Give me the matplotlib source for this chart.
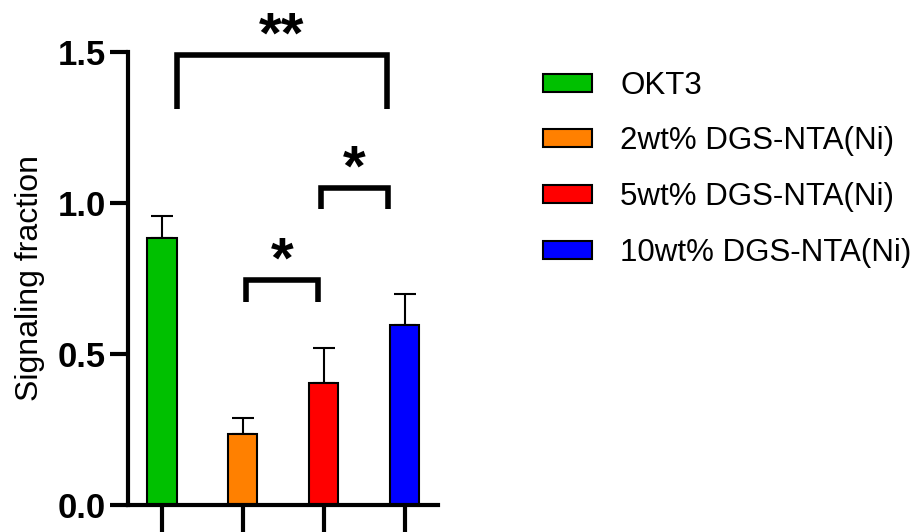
import matplotlib
matplotlib.use('Agg')
import matplotlib.pyplot as plt

plt.rcParams['font.family'] = ['Liberation Sans', 'DejaVu Sans']

groups = ['OKT3', '2wt% DGS-NTA(Ni)', '5wt% DGS-NTA(Ni)', '10wt% DGS-NTA(Ni)']
means = [0.885, 0.235, 0.405, 0.595]
errors = [0.072, 0.053, 0.115, 0.104]
colors = ['#00C000', '#FF8000', '#FF0000', '#0000FF']

# significance brackets: (x start, x end, top, leg bottom, label)
brackets = [
    (0.185, 2.78, 1.49, 1.31, '**'),
    (1.04, 1.93, 0.745, 0.672, '*'),
    (1.96, 2.79, 1.05, 0.98, '*'),
]

fig = plt.figure(figsize=(9.16, 5.32), dpi=100)
ax = fig.add_axes([0.1397, 0.0508, 0.3384, 0.8515])

x = range(len(groups))
for i in x:
    ax.bar(i, means[i], width=0.36, color=colors[i], edgecolor='black',
           linewidth=1.5, label=groups[i], zorder=2)
    ax.errorbar(i, means[i], yerr=[[0], [errors[i]]], fmt='none',
                ecolor='black', elinewidth=1.5, capsize=8, capthick=1.5, zorder=1)

for x0, x1, top, bot, lab in brackets:
    ax.plot([x0, x0, x1, x1], [bot, top, top, bot], color='black',
            linewidth=4, solid_joinstyle='miter', solid_capstyle='butt',
            clip_on=False)
    ax.text((x0 + x1) / 2, top - 0.032, lab, ha='center', va='bottom',
            fontsize=42, fontweight='bold')

ax.set_xlim(-0.42, 3.41)
ax.set_ylim(0, 1.5)
ax.set_yticks([0, 0.5, 1.0, 1.5])
ax.set_yticklabels(['0.0', '0.5', '1.0', '1.5'], fontsize=25, fontweight='bold')
ax.set_xticks(list(x))
ax.set_xticklabels([])
ax.tick_params(axis='y', length=13, width=3, pad=3)
ax.tick_params(axis='x', length=22, width=3)
ax.spines['top'].set_visible(False)
ax.spines['right'].set_visible(False)
ax.spines['left'].set_linewidth(3)
ax.spines['bottom'].set_linewidth(3)
ax.set_ylabel('Signaling fraction', fontsize=23, labelpad=9)

fig.legend(loc='upper left', bbox_to_anchor=(0.593, 0.867), frameon=False,
           fontsize=22.5, handlelength=1.57, handleheight=0.51,
           handletextpad=0.9, labelspacing=0.82, borderpad=0, borderaxespad=0)

plt.savefig('out.png', dpi=100)
